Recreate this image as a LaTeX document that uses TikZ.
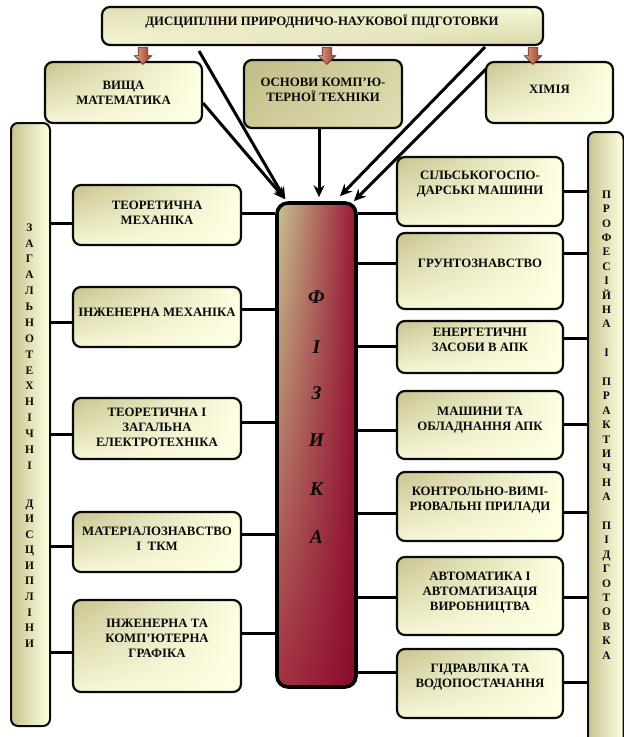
\documentclass[tikz,border=0pt]{standalone}
\usepackage{fontspec}
\setmainfont{Liberation Serif}
\usetikzlibrary{arrows.meta,shapes.arrows,shadings,calc}
\definecolor{cream}{HTML}{FFFFE3}
\definecolor{creamb}{HTML}{F7F6D6}
\definecolor{khaki}{HTML}{C8C48F}
\definecolor{khakid}{HTML}{C0BC85}
\definecolor{crim}{HTML}{981634}
\definecolor{crimd}{HTML}{8A0A2C}
\definecolor{crimb}{HTML}{A33242}
\definecolor{ink}{HTML}{0A0A0A}
\definecolor{arrtop}{HTML}{CFA585}
\definecolor{arrbot}{HTML}{A33A2E}
\tikzset{
  box/.style={draw=ink, line width=2.2pt, rounded corners=8pt, shade,
    shading=bilinear interpolation, upper left=khaki, upper right=cream,
    lower left=creamb, lower right=cream, inner sep=0pt},
  darkbox/.style={box, upper left=khakid, upper right=khaki!75!cream,
    lower left=khaki!90!cream, lower right=khaki!55!cream},
  topbox/.style={box, upper left=khaki!55!cream, upper right=cream!90!khaki,
    lower left=cream!85!khaki, lower right=khaki!70!cream},
  bar/.style={draw=ink, line width=2pt, rounded corners=7pt,
    left color=khaki, right color=cream, inner sep=0pt},
  centre/.style={draw=black, line width=3.6pt, rounded corners=11pt, shade,
    shading=bilinear interpolation, upper left=khaki, upper right=crim,
    lower left=crimb, lower right=crimd, inner sep=0pt},
  txt/.style={font=\fontsize{12.8}{15}\selectfont\bfseries, text=ink,
    align=center, inner sep=0pt},
  vlet/.style={font=\fontsize{11.5}{12}\selectfont\bfseries, text=ink,
    anchor=base, inner sep=0pt},
  clet/.style={font=\fontsize{19.5}{20}\selectfont\bfseries\itshape, text=ink,
    anchor=base, inner sep=0pt},
  conn/.style={draw=black, line width=3pt},
  arr/.style={conn, -{Stealth[length=12pt,width=11pt]}},
  redarr/.style={single arrow, shape border rotate=270, minimum height=17pt,
    minimum width=17pt, single arrow head extend=4pt, inner sep=4.5pt,
    left color=arrtop, right color=arrbot, draw=arrbot!70!black, line width=0.6pt}
}
\begin{document}
\begin{tikzpicture}[x=1pt,y=-1pt]
\useasboundingbox (0,0) rectangle (624,737);
% top row
\node[topbox, minimum width=441pt, minimum height=38pt] (top) at (322.5,26) {};
\node[txt] (topt) at (322,22) {ДИСЦИПЛІНИ ПРИРОДНИЧО-НАУКОВОЇ ПІДГОТОВКИ};
\node[box, minimum width=157pt, minimum height=61pt] (vm) at (123.5,92.5) {};
\node[txt] (vmt) at (123.5,92.5) {ВИЩА\\МАТЕМАТИКА};
\node[darkbox, minimum width=158pt, minimum height=68pt] (okt) at (323,94) {};
\node[txt] (oktt) at (323,89.5) {ОСНОВИ КОМП’Ю-\\ТЕРНОЇ ТЕХНІКИ};
\node[box, minimum width=127pt, minimum height=61pt] (chem) at (549.5,92.5) {};
\node[txt] (chemt) at (549.5,89) {ХІМІЯ};
% red arrows
\node[redarr] (ra1) at (143,53.5) {};
\node[redarr] (ra2) at (327,53.5) {};
\node[redarr] (ra3) at (533,53.5) {};
% side bars
\node[bar, minimum width=39pt, minimum height=603pt] (lbar) at (30.5,424.5) {};
\node[bar, minimum width=35.5pt, minimum height=640pt] (rbar) at (605.75,452) {};
\foreach \l [count=\i from 0] in {З,А,Г,А,Л,Ь,Н,О,Т,Е,Х,Н,І,Ч,Н,І}
  \node[vlet] (ll\i) at (29.5,{227+\i*15.87+4.2}) {\l};
\foreach \l [count=\i from 0] in {Д,И,С,Ц,И,П,Л,І,Н,И}
  \node[vlet] (lm\i) at (29.5,{503+\i*15.55+4.2}) {\l};
\foreach \l/\k in {П/0,Р/1,О/2,Ф/3,Е/4,С/5,І/6,Й/7,Н/8,А/9,І/11,П/13,Р/14,А/15,К/16,Т/17,И/18,Ч/19,Н/20,А/21,П/23,І/24,Д/25,Г/26,О/27,Т/28,О/29,В/30,К/31,А/32}
  \node[vlet] (rl\k) at (606.5,{194+\k*14.4+4.2}) {\l};
% centre
\node[centre, minimum width=79pt, minimum height=484pt] (phys) at (316.5,445) {};
\foreach \l/\y [count=\i] in {Ф/297,І/347,З/393,И/440,К/489,А/537}
  \node[clet] (ph\i) at (316.5,{\y+6.5}) {\l};
% left boxes
\node[box, minimum width=168pt, minimum height=60pt] (l1) at (157,215) {};
\node[txt] (l1t) at (157,212.5) {ТЕОРЕТИЧНА\\МЕХАНІКА};
\node[box, minimum width=168pt, minimum height=60pt] (l2) at (157,317) {};
\node[txt] (l2t) at (157,312) {ІНЖЕНЕРНА МЕХАНІКА};
\node[box, minimum width=168pt, minimum height=61pt] (l3) at (157,428.5) {};
\node[txt] (l3t) at (157,427) {ТЕОРЕТИЧНА І\\ЗАГАЛЬНА\\ЕЛЕКТРОТЕХНІКА};
\node[box, minimum width=168pt, minimum height=60pt] (l4) at (157,542) {};
\node[txt] (l4t) at (157,538.5) {МАТЕРІАЛОЗНАВСТВО\\І\ \ ТКМ};
\node[box, minimum width=168pt, minimum height=92pt] (l5) at (157,646) {};
\node[txt] (l5t) at (157,638) {ІНЖЕНЕРНА ТА\\КОМП’ЮТЕРНА\\ГРАФІКА};
% right boxes
\node[box, minimum width=166pt, minimum height=69pt] (r1) at (480,191.5) {};
\node[txt] (r1t) at (480,184.5) {СІЛЬСЬКОГОСПО-\\ДАРСЬКІ МАШИНИ};
\node[box, minimum width=166pt, minimum height=76pt] (r2) at (480,271) {};
\node[txt] (r2t) at (480,263) {ГРУНТОЗНАВСТВО};
\node[box, minimum width=166pt, minimum height=52pt] (r3) at (480,347) {};
\node[txt] (r3t) at (480,339.5) {ЕНЕРГЕТИЧНІ\\ЗАСОБИ В АПК};
\node[box, minimum width=166pt, minimum height=68pt] (r4) at (480,425) {};
\node[txt] (r4t) at (480,420.5) {МАШИНИ ТА\\ОБЛАДНАННЯ АПК};
\node[box, minimum width=166pt, minimum height=69pt] (r5) at (480,506.5) {};
\node[txt] (r5t) at (480,500) {КОНТРОЛЬНО-ВИМІ-\\РЮВАЛЬНІ ПРИЛАДИ};
\node[box, minimum width=166pt, minimum height=78pt] (r6) at (480,596) {};
\node[txt] (r6t) at (480,593) {АВТОМАТИКА І\\АВТОМАТИЗАЦІЯ\\ВИРОБНИЦТВА};
\node[box, minimum width=166pt, minimum height=69pt] (r7) at (480,683.5) {};
\node[txt] (r7t) at (480,677.5) {ГІДРАВЛІКА ТА\\ВОДОПОСТАЧАННЯ};
% connectors left
\foreach \b/\ya/\yb in {l1/223/213, l2/322/309, l3/434/422, l4/546/534, l5/652/633}{
  \draw[conn] (lbar.east |- 0,\ya) -- (\b.west |- 0,\ya);
  \draw[conn] (\b.east |- 0,\yb) -- (phys.west |- 0,\yb);
}
\foreach \b/\ya/\yb in {r1/213/191, r2/263/253, r3/346/338, r4/430/424, r5/513/512, r6/597/597, r7/672/682}{
  \draw[conn] (phys.east |- 0,\ya) -- (\b.west |- 0,\ya);
  \draw[conn] (\b.east |- 0,\yb) -- (rbar.west |- 0,\yb);
}
% arrows into the centre
\coordinate (tl) at (199,51);
\coordinate (tr) at (485,47);
\coordinate (vmo) at (203,103);
\coordinate (cho) at (486,69);
\draw[arr] (tl) -- ([xshift=10pt,yshift=2pt]phys.north west);
\draw[arr] (vmo) -- ([xshift=10pt,yshift=2pt]phys.north west);
\draw[arr] (okt.south -| 319,0) -- ([yshift=4pt]phys.north -| 319,0);
\draw[arr] (tr) -- ([yshift=5pt]phys.north -| 340,0);
\draw[arr] (cho) -- ([xshift=-4pt]phys.north east);
\end{tikzpicture}
\end{document}
